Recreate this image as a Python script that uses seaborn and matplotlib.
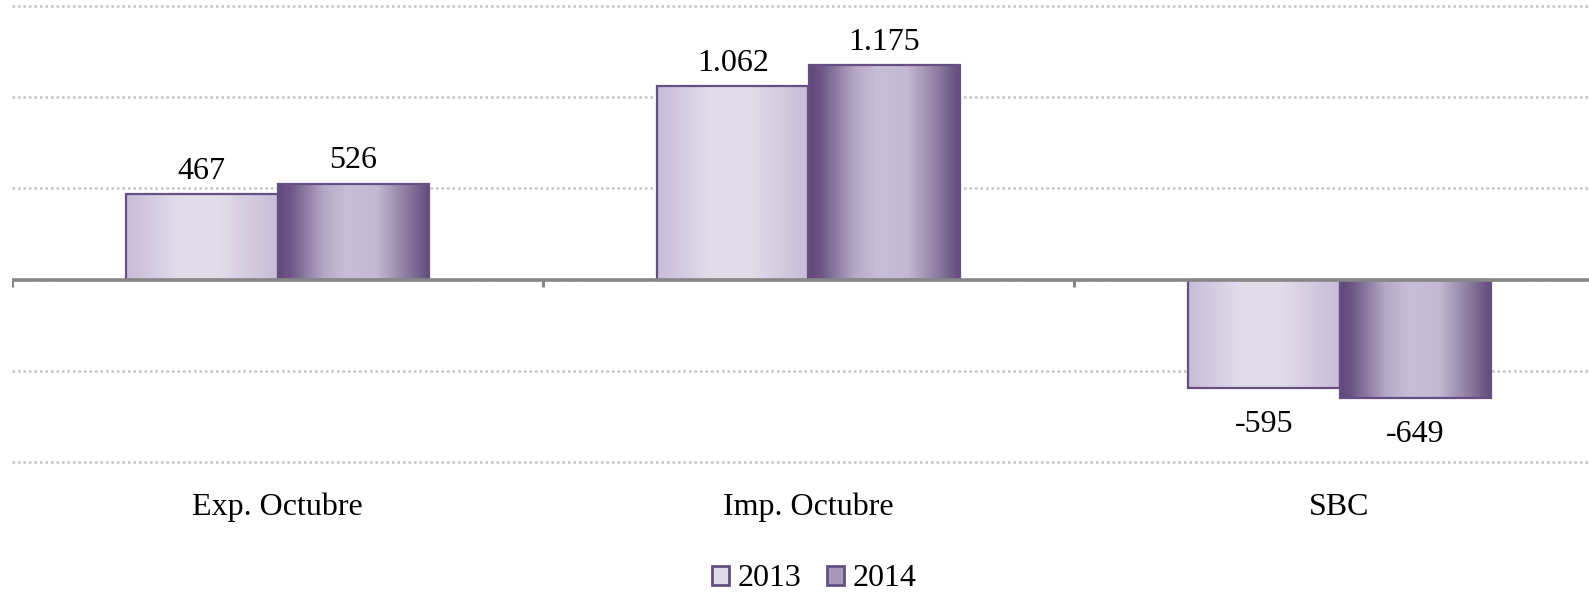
import numpy as np
import pandas as pd
import matplotlib
matplotlib.use("Agg")
import matplotlib.pyplot as plt
import seaborn as sns
from matplotlib.colors import LinearSegmentedColormap
from matplotlib.patches import Patch

categories = ["Exp. Octubre", "Imp. Octubre", "SBC"]
years = ["2013", "2014"]
values_2013 = [467, 1062, -595]
values_2014 = [526, 1175, -649]

df = pd.DataFrame({
    "cat": categories * 2,
    "year": [years[0]] * 3 + [years[1]] * 3,
    "val": values_2013 + values_2014,
})

sns.set_theme(style="white")
plt.rcParams["font.family"] = ["Liberation Serif", "DejaVu Serif"]
plt.rcParams["text.color"] = "black"
plt.rcParams["xtick.color"] = "black"

fig = plt.figure(figsize=(15.89, 5.95), dpi=100)
ax = fig.add_axes([12 / 1589, (595 - 462) / 595, 1593 / 1589, (462 - 6) / 595])

sns.barplot(data=df, x="cat", y="val", hue="year", hue_order=years,
            order=categories, width=0.57, ax=ax, legend=False,
            palette=["#e0d9e8", "#a797bb"], edgecolor="#654f83", linewidth=1.6)

cmaps = {
    0: LinearSegmentedColormap.from_list("g13", [(0, "#c8bcd8"), (0.35, "#e2dcea"),
                                                 (0.6, "#e3dde9"), (1, "#c8bcd8")]),
    1: LinearSegmentedColormap.from_list("g14", [(0, "#5f497a"), (0.08, "#6c5787"), (0.3, "#b5a8c6"),
                                                 (0.45, "#c8bdd7"), (0.65, "#c4b8d3"),
                                                 (0.85, "#8b7ca0"), (1, "#5f497a")]),
}
grad = np.linspace(0, 1, 256).reshape(1, -1)
for i, cont in enumerate(ax.containers):
    for p in cont.patches:
        x0, y0 = p.get_x(), p.get_y()
        w, h = p.get_width(), p.get_height()
        im = ax.imshow(grad, cmap=cmaps[i], aspect="auto",
                       extent=[x0, x0 + w, min(y0, y0 + h), max(y0, y0 + h)],
                       zorder=p.get_zorder() + 0.1, interpolation="bilinear")
        im.set_clip_path(p)
        p.set_facecolor("none")
        p.set_zorder(p.get_zorder() + 0.2)

def fmt(v):
    return f"{v:,}".replace(",", ".")

for cont, vals in zip(ax.containers, [values_2013, values_2014]):
    texts = ax.bar_label(cont, labels=[fmt(v) for v in vals],
                         padding=6, fontsize=23, color="black")
    for t, v in zip(texts, vals):
        if v < 0:
            t.xyann = (0, -16)

ax.set_xlim(-0.5, 2.5)
ax.set_ylim(-1000, 1500)
ax.set_yticks([-1000, -500, 0, 500, 1000, 1500])
ax.set_yticklabels([])
ax.tick_params(axis="y", length=0)
ax.yaxis.grid(True, linestyle=(0, (1, 1.2)), color="#c4c4c4", linewidth=1.8)
for gl in ax.get_ygridlines():
    gl.set_clip_on(False)
ax.set_axisbelow(True)
for s in ax.spines.values():
    s.set_visible(False)

ax.axhline(0, color="#878787", linewidth=2.6, zorder=5)
ax.vlines([-0.5, 0.5, 1.5, 2.5], -40, 0, color="#878787", linewidth=2.2, zorder=5)

ax.set_xlabel("")
ax.set_ylabel("")
ax.tick_params(axis="x", length=0, pad=22, labelsize=23, labelcolor="black")

handles = [Patch(facecolor="#e0d9e8", edgecolor="#654f83", linewidth=2),
           Patch(facecolor="#a797bb", edgecolor="#654f83", linewidth=2)]
fig.legend(handles, years, loc="center", bbox_to_anchor=(814 / 1589, 1 - 579 / 595), ncol=2,
           frameon=False, fontsize=23, handlelength=0.55, handleheight=0.55,
           handletextpad=0.25, columnspacing=0.8, labelcolor="black", borderpad=0.1)

fig.savefig("out.png", dpi=100)
